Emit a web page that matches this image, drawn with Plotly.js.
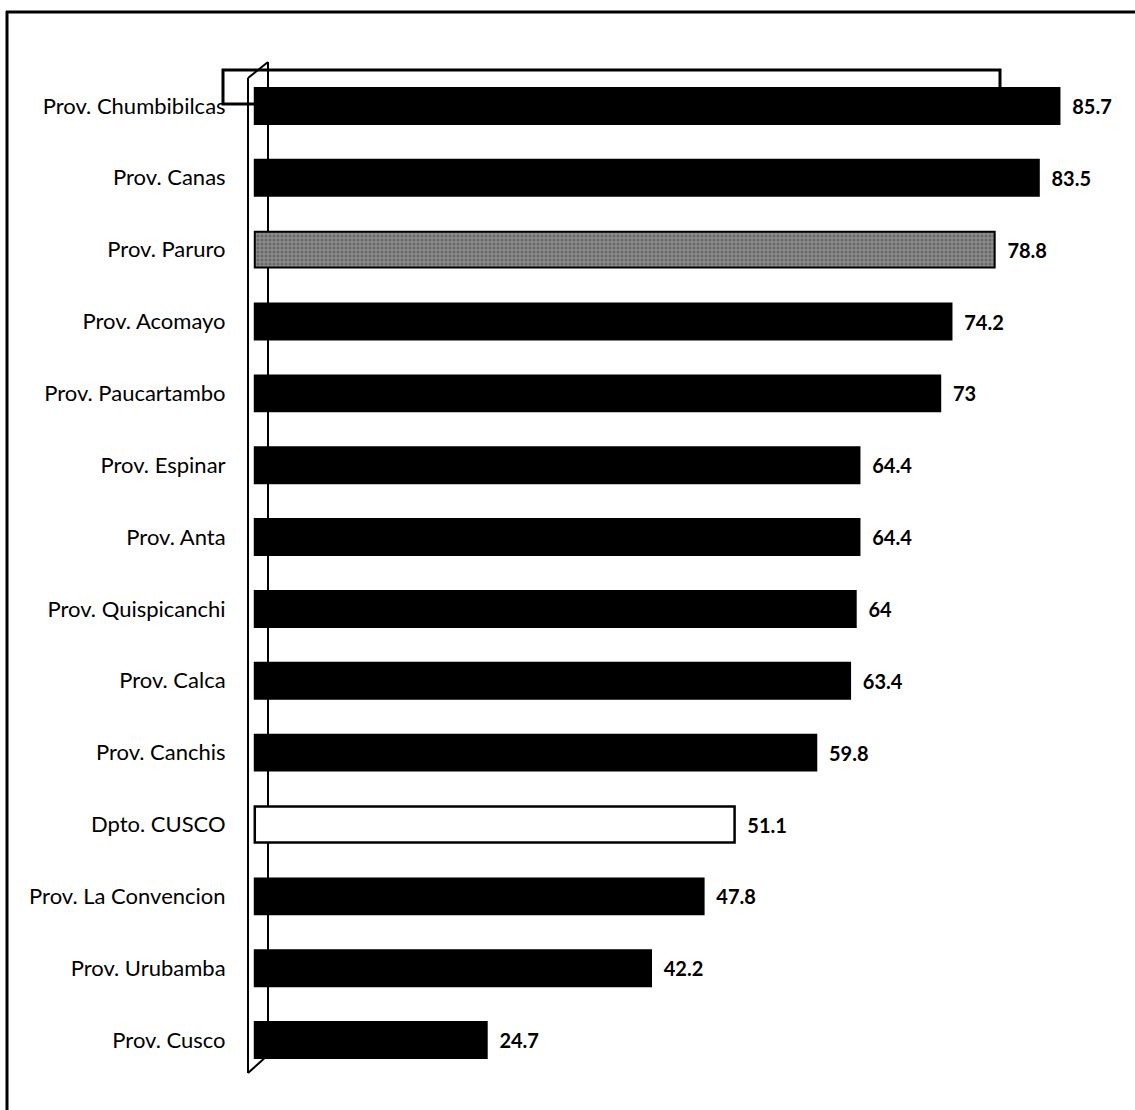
<!DOCTYPE html>
<html>
<head>
<meta charset="utf-8">
<script src="https://cdn.plot.ly/plotly-3.0.1.min.js"></script>
<style>html,body{margin:0;padding:0;background:#fff;}#chart{width:1135px;height:1110px;}</style>
</head>
<body>
<div id="chart"></div>
<script>
// Data (top to bottom as shown)
const categories = [
  "Prov. Chumbibilcas", "Prov. Canas", "Prov. Paruro", "Prov. Acomayo",
  "Prov. Paucartambo", "Prov. Espinar", "Prov. Anta", "Prov. Quispicanchi",
  "Prov. Calca", "Prov. Canchis", "Dpto. CUSCO", "Prov. La Convencion",
  "Prov. Urubamba", "Prov. Cusco"
];
const values = [85.7, 83.5, 78.8, 74.2, 73, 64.4, 64.4, 64, 63.4, 59.8, 51.1, 47.8, 42.2, 24.7];
const valueLabels = ["85.7", "83.5", "78.8", "74.2", "73", "64.4", "64.4", "64", "63.4", "59.8", "51.1", "47.8", "42.2", "24.7"];

const W = 1135, H = 1110;
const mL = 236, mR = 7, mT = 70, mB = 34;
const pw = W - mL - mR, ph = H - mT - mB;
const px = x => (x - mL) / pw;
const py = y => (H - mB - y) / ph;

const colors = categories.map(c => c === "Prov. Paruro" ? "#8c8c8c" : (c === "Dpto. CUSCO" ? "#ffffff" : "#000000"));
const lineW = categories.map(c => c === "Dpto. CUSCO" ? 2.5 : 2);
const patShapes = categories.map(c => c === "Prov. Paruro" ? "." : "");

const trace = {
  type: "bar",
  orientation: "h",
  y: categories,
  x: values,
  text: valueLabels.map(t => "\u00a0\u00a0" + t),
  textposition: "outside",
  cliponaxis: false,
  textfont: {family: "Lato, 'Open Sans', sans-serif", size: 20, color: "#000", weight: "bold"},
  marker: {
    color: colors,
    line: {color: "#000", width: lineW},
    pattern: {shape: patShapes, fillmode: "overlay", fgcolor: "#2b2b2b", size: 4, solidity: 0.45}
  },
  hoverinfo: "none"
};

const lineStyle = {color: "#000", width: 2};
const shapes = [
  // outer frame (top and left)
  {type: "line", xref: "paper", yref: "paper", x0: px(6), x1: px(1135), y0: py(12), y1: py(12), line: {color: "#000", width: 3}},
  {type: "line", xref: "paper", yref: "paper", x0: px(7), x1: px(7), y0: py(11), y1: py(1110), line: {color: "#000", width: 3}},
  // highlight rectangle
  {type: "rect", layer: "below", xref: "paper", yref: "paper", x0: px(223), x1: px(1000), y0: py(104), y1: py(70), line: {color: "#000", width: 3}, fillcolor: "rgba(0,0,0,0)"},
  // axis wall
  {type: "line", layer: "below", xref: "paper", yref: "paper", x0: px(248), x1: px(248), y0: py(78), y1: py(1073), line: lineStyle},
  {type: "line", layer: "below", xref: "paper", yref: "paper", x0: px(268), x1: px(268), y0: py(62), y1: py(1055), line: lineStyle},
  {type: "line", layer: "below", xref: "paper", yref: "paper", x0: px(248), x1: px(268), y0: py(78), y1: py(62), line: lineStyle},
  {type: "line", layer: "below", xref: "paper", yref: "paper", x0: px(248), x1: px(268), y0: py(1073), y1: py(1055), line: lineStyle}
];

const layout = {
  width: W, height: H,
  margin: {l: mL, r: mR, t: mT, b: mB, pad: 0},
  paper_bgcolor: "#fff", plot_bgcolor: "rgba(0,0,0,0)",
  showlegend: false,
  bargap: 0.5,
  font: {family: "Lato, 'Open Sans', sans-serif", color: "#000"},
  xaxis: {range: [-2, 93], showgrid: false, zeroline: false, showticklabels: false, showline: false, ticks: ""},
  yaxis: {type: "category", categoryorder: "array", categoryarray: categories, range: [13.5, -0.5],
          showgrid: false, zeroline: false, showline: false, ticks: "outside", ticklen: 5, tickcolor: "rgba(0,0,0,0)",
          tickfont: {family: "Lato, 'Open Sans', sans-serif", size: 22, color: "#000"}},
  shapes: shapes
};

Plotly.newPlot("chart", [trace], layout, {displayModeBar: false, staticPlot: true});
</script>
</body>
</html>
